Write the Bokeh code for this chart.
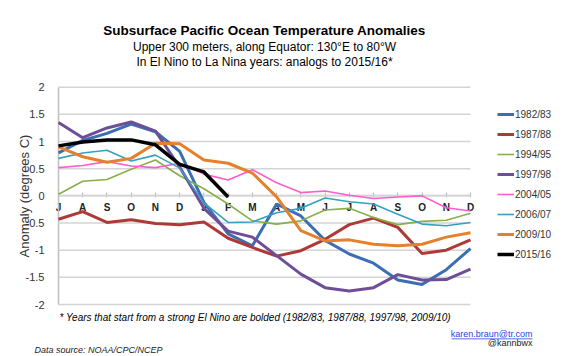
from bokeh.plotting import figure
from bokeh.models import (Range1d, FixedTicker, Legend, LegendItem, Label,
                          BoxAnnotation, ColumnDataSource)
from bokeh.embed import file_html
from bokeh.resources import INLINE

# ---------------- data ----------------
months = ["J", "A", "S", "O", "N", "D", "J", "F", "M",
          "A", "M", "J", "J", "A", "S", "O", "N", "D"]
y_ticks = [-2, -1.5, -1, -0.5, 0, 0.5, 1, 1.5, 2]
y_tick_labels = ["-2", "-1.5", "-1", "-0.5", "0", "0.5", "1", "1.5", "2"]

series_names = ["1982/83", "1987/88", "1994/95", "1997/98",
                "2004/05", "2006/07", "2009/10", "2015/16"]

s1982_83 = [0.79, 1.02, 1.15, 1.32, 1.18, 0.82, -0.12, -0.70, -0.92, -0.15,
            -0.37, -0.82, -1.07, -1.24, -1.55, -1.63, -1.36, -0.97]
s1987_88 = [-0.43, -0.29, -0.49, -0.44, -0.51, -0.53, -0.48, -0.78, -0.95, -1.11,
            -1.01, -0.80, -0.53, -0.41, -0.58, -1.06, -1.00, -0.81]
s1994_95 = [0.03, 0.27, 0.30, 0.49, 0.66, 0.37, 0.13, -0.15, -0.46, -0.52,
            -0.46, -0.26, -0.23, -0.40, -0.53, -0.47, -0.45, -0.32]
s1997_98 = [1.35, 1.07, 1.25, 1.36, 1.19, 0.53, -0.23, -0.65, -0.76, -1.10,
            -1.44, -1.69, -1.75, -1.69, -1.45, -1.55, -1.54, -1.35]
s2004_05 = [0.52, 0.56, 0.63, 0.55, 0.52, 0.60, 0.40, 0.29, 0.48, 0.24,
            0.06, 0.09, 0.01, -0.05, -0.02, 0.00, -0.22, -0.28]
s2006_07 = [0.69, 0.79, 0.84, 0.64, 0.75, 0.51, -0.13, -0.49, -0.48, -0.31,
            -0.23, -0.04, -0.11, -0.15, -0.34, -0.52, -0.55, -0.49]
s2009_10 = [0.90, 0.72, 0.62, 0.69, 0.97, 0.96, 0.66, 0.60, 0.42, -0.02,
            -0.64, -0.83, -0.81, -0.89, -0.92, -0.89, -0.76, -0.68]
s2015_16 = [0.92, 0.99, 1.03, 1.03, 0.94, 0.58, 0.44, -0.02]

all_series = [s1982_83, s1987_88, s1994_95, s1997_98,
              s2004_05, s2006_07, s2009_10, s2015_16]

# ---------------- styles / layout ----------------
colors = ["#3C6EB4", "#AE3A37", "#89AF48", "#6E4E97",
          "#FF5CCF", "#36A0C0", "#E5812C", "#000000"]
widths = [3, 3, 1.6, 3, 1.6, 1.6, 3, 3.5]
FONT = "Liberation Sans"
GRID = "#D4D4D4"

W, H = 563, 356
# plot area inside the canvas (pixels)
PL, PR, PT, PB = 58, 470, 86.7, 304
n = len(months) - 1
xu = (PR - PL) / n
x0 = -PL / xu
x1 = x0 + W / xu
yu = (PB - PT) / (y_ticks[-1] - y_ticks[0])
y1 = y_ticks[-1] + PT / yu
y0 = y_ticks[0] - (H - PB) / yu

p = figure(width=W, height=H, output_backend="svg", toolbar_location=None,
           x_range=Range1d(x0, x1), y_range=Range1d(y0, y1),
           min_border=0, min_border_left=0, min_border_right=0,
           min_border_top=0, min_border_bottom=0)
p.outline_line_color = None
p.background_fill_color = "white"
p.border_fill_color = "white"
p.xgrid.visible = False
p.ygrid.visible = False

# horizontal gridlines, spanning the category extent
p.segment(x0=[0] * len(y_ticks), x1=[n] * len(y_ticks), y0=y_ticks, y1=y_ticks,
          line_color=GRID, line_width=1.5)

# y axis at the first category
p.yaxis.fixed_location = 0
p.yaxis.bounds = (y_ticks[0], y_ticks[-1])
p.yaxis.ticker = FixedTicker(ticks=y_ticks)
p.yaxis.major_label_overrides = {t: l for t, l in zip(y_ticks, y_tick_labels)}
p.yaxis.major_tick_line_color = None
p.yaxis.minor_tick_line_color = None
p.yaxis.axis_line_color = "#BFBFBF"
p.yaxis.axis_line_width = 1.5
p.yaxis.major_label_text_font = FONT
p.yaxis.major_label_text_font_size = "11px"
p.yaxis.major_label_text_color = "#333333"
p.yaxis.major_label_standoff = 8
p.yaxis.axis_label = "Anomaly (degrees C)"
p.yaxis.axis_label_text_font = FONT
p.yaxis.axis_label_text_font_size = "13px"
p.yaxis.axis_label_text_font_style = "normal"
p.yaxis.axis_label_text_color = "#333333"
p.yaxis.axis_label_standoff = -9
p.yaxis.level = "underlay"

# x axis at zero
p.xaxis.fixed_location = 0
p.xaxis.bounds = (0, n)
p.xaxis.ticker = FixedTicker(ticks=list(range(len(months))))
p.xaxis.major_label_overrides = {i: m for i, m in enumerate(months)}
p.xaxis.axis_line_color = "#BFBFBF"
p.xaxis.axis_line_width = 1.5
p.xaxis.major_tick_line_color = "#BFBFBF"
p.xaxis.major_tick_line_width = 1.2
p.xaxis.major_tick_in = 3
p.xaxis.major_tick_out = 2
p.xaxis.minor_tick_line_color = None
p.xaxis.major_label_text_font = FONT
p.xaxis.major_label_text_font_size = "10px"
p.xaxis.major_label_text_font_style = "bold"
p.xaxis.major_label_text_color = "#222222"
p.xaxis.major_label_standoff = 4
p.xaxis.level = "underlay"

items = []
for name, vals, c, w in zip(series_names, all_series, colors, widths):
    src = ColumnDataSource(dict(x=list(range(len(vals))), y=vals))
    r = p.line("x", "y", source=src, line_color=c, line_width=w)
    items.append(LegendItem(label=name, renderers=[r]))

legend = Legend(items=items, location=(497, 96), orientation="vertical",
                glyph_width=17, glyph_height=12, label_height=12, spacing=8,
                label_standoff=1, padding=0, margin=0,
                border_line_color=None, background_fill_alpha=0,
                label_text_font=FONT, label_text_font_size="10px",
                label_text_color="#333333")
p.add_layout(legend, "center")

# ---------------- texts (screen px from canvas bottom-left) ----------------
def lab(text, x, y, size, style="normal", align="left", color="#000000"):
    p.add_layout(Label(x=x, y=y, x_units="screen", y_units="screen", text=text,
                       text_font=FONT, text_font_size=size, text_font_style=style,
                       text_align=align, text_baseline="middle", text_color=color))

lab("Subsurface Pacific Ocean Temperature Anomalies", 264, 326, "13.5px", "bold", "center")
lab("Upper 300 meters, along Equator: 130\u00b0E to 80\u00b0W", 264, 309.5, "12px", "normal", "center")
lab("In El Nino to La Nina years: analogs to 2015/16*", 264, 294.5, "12px", "normal", "center")
lab("* Years that start from a strong El Nino are bolded (1982/83, 1987/88, 1997/98, 2009/10)",
    59, 39.5, "10px", "italic")
lab("karen.braun@tr.com", 532, 22.5, "9px", "normal", "right", "#1F3FE0")
lab("@kannbwx", 532, 13.2, "9px", "normal", "right", "#222222")
lab("Data source: NOAA/CPC/NCEP", 34, 6.5, "9px", "italic", "left", "#222222")

p.add_layout(BoxAnnotation(left=451, right=532, bottom=17.3, top=18.1,
                           left_units="screen", right_units="screen",
                           bottom_units="screen", top_units="screen",
                           fill_color="#1F3FE0", fill_alpha=1, line_color=None))

open("out.html", "w").write(file_html(p, INLINE))
